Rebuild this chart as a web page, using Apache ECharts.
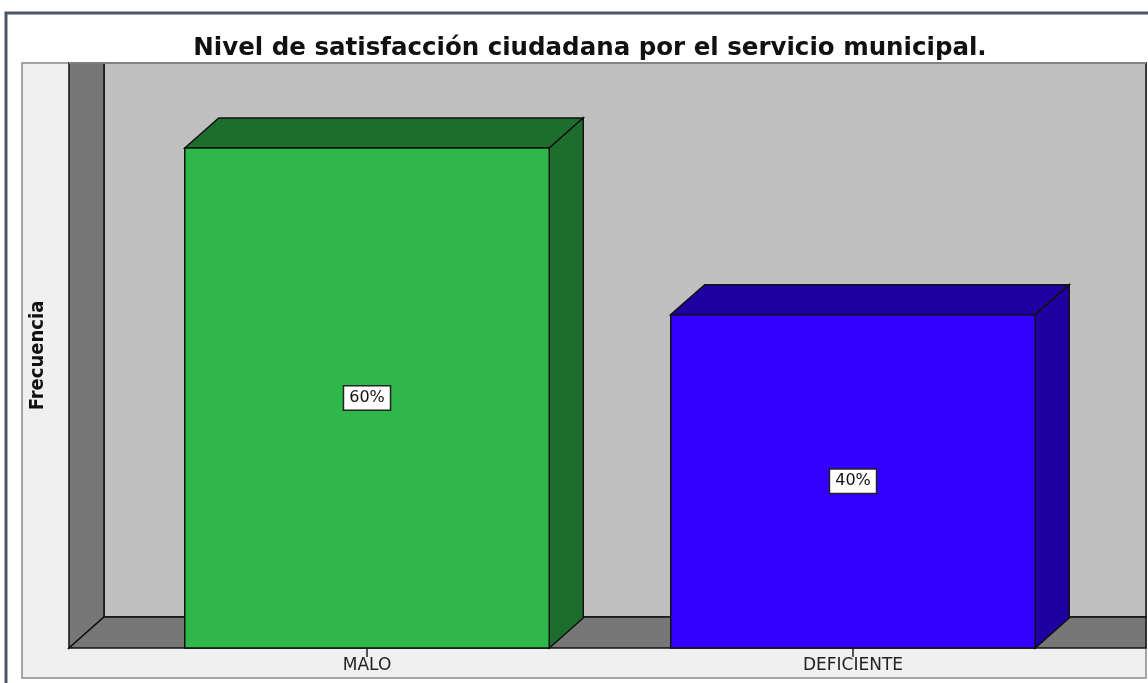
<!DOCTYPE html>
<html>
<head>
<meta charset="utf-8">
<script src="https://cdn.jsdelivr.net/npm/echarts@6/dist/echarts.min.js"></script>
<style>
  html, body { margin: 0; padding: 0; background: #fff; }
</style>
</head>
<body>
<div id="main" style="width:1148px;height:683px;"></div>
<script type="text/javascript">
// datos del grafico
var categorias = ['MALO', 'DEFICIENTE'];
var porcentajes = [60, 40];

var titulo = 'Nivel de satisfacción ciudadana por el servicio municipal.';
var nombreEjeY = 'Frecuencia';

// colores (frente / lados)
var colorFrente = ['#2eb84a', '#3300ff'];
var colorLado = ['#1d6e2d', '#1f00a0'];

// geometria del panel y profundidad 3D
var PANEL_L = 22, PANEL_T = 63, PANEL_R = 1146, PANEL_B = 678;
var PARED_X = 69, PISO_Y = 648;
var DX = 35, DY = 31;

var myChart = echarts.init(document.getElementById('main'));

var datos = categorias.map(function (c, i) {
    return [i, porcentajes[i]];
});

function dibujarBarra(params, api) {
    var i = api.value(0);
    var base = api.coord([i, 0]);
    var tope = api.coord([i, api.value(1)]);
    var w = api.size([1, 0])[0] * 0.75;
    var x0 = base[0] - w / 2, x1 = base[0] + w / 2;
    var y0 = tope[1], y1 = base[1];
    var dx = 34, dy = 30;
    var borde = { stroke: '#111', lineWidth: 1.5 };
    return {
        type: 'group',
        children: [
            {
                type: 'polygon',
                shape: { points: [[x0, y0], [x0 + dx, y0 - dy], [x1 + dx, y0 - dy], [x1, y0]] },
                style: Object.assign({ fill: colorLado[i] }, borde)
            },
            {
                type: 'polygon',
                shape: { points: [[x1, y0], [x1 + dx, y0 - dy], [x1 + dx, y1 - dy], [x1, y1]] },
                style: Object.assign({ fill: colorLado[i] }, borde)
            },
            {
                type: 'rect',
                shape: { x: x0, y: y0, width: w, height: y1 - y0 },
                style: Object.assign({ fill: colorFrente[i] }, borde)
            },
            {
                type: 'text',
                style: {
                    text: api.value(1) + '%',
                    x: base[0],
                    y: (y0 + y1) / 2,
                    align: 'center',
                    verticalAlign: 'middle',
                    fontFamily: 'DejaVu Sans',
                    fontSize: 16,
                    fill: '#111',
                    backgroundColor: '#fff',
                    borderColor: '#222',
                    borderWidth: 1.5,
                    padding: [4, 5, 3, 5]
                }
            }
        ]
    };
}

var option = {
    backgroundColor: '#fff',
    animation: false,
    title: {
        text: titulo,
        left: 585,
        top: 31,
        textAlign: 'center',
        textStyle: {
            fontFamily: 'DejaVu Sans',
            fontWeight: 'bold',
            fontSize: 24.5,
            color: '#111'
        }
    },
    graphic: [
        // marco exterior
        {
            type: 'rect', z: -10, silent: true,
            shape: { x: 6, y: 13, width: 1160, height: 700 },
            style: { fill: '#fff', stroke: '#4a5568', lineWidth: 3 }
        },
        // panel
        {
            type: 'rect', z: -9, silent: true,
            shape: { x: PANEL_L, y: PANEL_T, width: PANEL_R - PANEL_L, height: PANEL_B - PANEL_T },
            style: { fill: '#f0f0f0', stroke: '#8a8a8a', lineWidth: 1.5 }
        },
        // pared de fondo
        {
            type: 'rect', z: -8, silent: true,
            shape: { x: PARED_X + DX, y: PANEL_T, width: PANEL_R - PARED_X - DX, height: PISO_Y - DY - PANEL_T },
            style: { fill: '#c0c0c0', stroke: '#111', lineWidth: 1.5 }
        },
        // pared izquierda
        {
            type: 'polygon', z: -7, silent: true,
            shape: { points: [[PARED_X, PANEL_T], [PARED_X + DX, PANEL_T], [PARED_X + DX, PISO_Y - DY], [PARED_X, PISO_Y]] },
            style: { fill: '#777', stroke: '#111', lineWidth: 1.5 }
        },
        // piso
        {
            type: 'polygon', z: -7, silent: true,
            shape: { points: [[PARED_X, PISO_Y], [PARED_X + DX, PISO_Y - DY], [PANEL_R, PISO_Y - DY], [PANEL_R, PISO_Y]] },
            style: { fill: '#777', stroke: '#111', lineWidth: 1.5 }
        },
        // borde superior claro del panel
        {
            type: 'line', z: -6, silent: true,
            shape: { x1: PARED_X, y1: PANEL_T, x2: PANEL_R, y2: PANEL_T },
            style: { stroke: '#9a9a9a', lineWidth: 1.5 }
        }
    ],
    grid: {
        left: 124,
        right: 52,
        top: PANEL_T,
        bottom: 683 - PISO_Y
    },
    xAxis: {
        type: 'category',
        data: categorias,
        axisLine: { show: false },
        axisTick: {
            show: true,
            alignWithLabel: true,
            length: 9,
            lineStyle: { color: '#222', width: 1.5 }
        },
        axisLabel: {
            margin: 9,
            fontFamily: 'DejaVu Sans',
            fontSize: 17,
            color: '#222'
        }
    },
    yAxis: {
        type: 'value',
        min: 0,
        max: 70.2,
        name: nombreEjeY,
        nameLocation: 'middle',
        nameRotate: 90,
        nameGap: 76,
        nameTextStyle: {
            fontFamily: "'DejaVu Sans Condensed', 'Liberation Sans', sans-serif",
            fontWeight: 'bold',
            fontSize: 20,
            color: '#111'
        },
        axisLine: { show: false },
        axisTick: { show: false },
        axisLabel: { show: false },
        splitLine: { show: false }
    },
    series: [{
        type: 'custom',
        name: 'Frecuencia',
        clip: false,
        z: 5,
        renderItem: dibujarBarra,
        encode: { x: 0, y: 1 },
        data: datos
    }]
};

myChart.setOption(option);
</script>
</body>
</html>
